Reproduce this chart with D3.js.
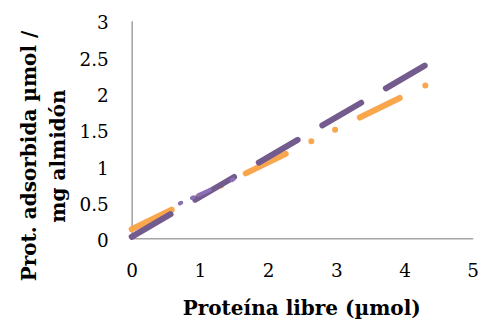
<!DOCTYPE html>
<html>
<head>
<meta charset="utf-8">
<script src="https://cdn.jsdelivr.net/npm/d3@7"></script>
<style>
  html, body { margin: 0; padding: 0; background: #fff; }
  svg { display: block; }
</style>
</head>
<body>
<div id="chart"></div>
<script>
// Trend lines (x = free protein, y = adsorbed protein)
const purpleX = [0, 4.35];
const purpleY = [0.02, 2.41];
const orangeX = [0, 4.31];
const orangeY = [0.124, 2.11];
const lightX = [0.68, 1.51];
const lightY = [0.47, 0.82];

const xTicks = [0, 1, 2, 3, 4, 5];
const yTicks = [0, 0.5, 1, 1.5, 2, 2.5, 3];

const width = 484, height = 320;
const plot = { left: 131.7, right: 472.7, top: 20.7, bottom: 238.3 };
const serif = "'DejaVu Serif', Cambria, serif";

const svg = d3.select('#chart')
    .append('svg')
    .attr('width', width)
    .attr('height', height);

const x = d3.scaleLinear().domain([0, 5]).range([plot.left, plot.right]);
const y = d3.scaleLinear().domain([0, 3]).range([plot.bottom, plot.top]);

// axes, no tick marks, only gray base lines
const xAxis = svg.append('g')
    .attr('transform', `translate(0,${y(0)})`)
    .call(d3.axisBottom(x).tickValues(xTicks).tickSize(0).tickFormat(d3.format('')));
const yAxis = svg.append('g')
    .attr('transform', `translate(${x(0)},0)`)
    .call(d3.axisLeft(y).tickValues(yTicks).tickSize(0).tickPadding(23).tickFormat(d3.format('')));

[xAxis, yAxis].forEach(a => {
    a.select('.domain').attr('stroke', '#a6a6a6').attr('stroke-width', 1.6);
    a.selectAll('text')
        .style('font-family', serif)
        .style('font-size', '18.4px')
        .attr('fill', '#000');
});
yAxis.selectAll('text').attr('dy', '0.45em');
xAxis.selectAll('text').attr('y', 39).attr('dy', 0);

// lines
const line = d3.line().x(d => x(d[0])).y(d => y(d[1]));

function drawSeries(xs, ys, color, w, dash, offset) {
    svg.append('path')
        .datum(d3.zip(xs, ys))
        .attr('d', line)
        .attr('fill', 'none')
        .attr('stroke', color)
        .attr('stroke-width', w)
        .attr('stroke-linecap', 'round')
        .attr('stroke-dasharray', dash)
        .attr('stroke-dashoffset', offset);
}

drawSeries(orangeX, orangeY, '#f9a64d', 6, '44.5 28.5 0 26.5 0 27.5', 0);
drawSeries(purpleX, purpleY, '#735b8e', 6, '45 28.6', 0);
drawSeries(lightX, lightY, '#8a70b5', 4, '1.5 11.6 1.5 5.8 12.4 24.2 1.5 100', -2);

// axis titles
svg.append('text')
    .attr('x', 301.7)
    .attr('y', 315)
    .attr('text-anchor', 'middle')
    .style('font-family', serif)
    .style('font-weight', 'bold')
    .style('font-size', '20px')
    .text('Proteína libre (µmol)');

const yTitle = svg.append('text')
    .attr('transform', 'translate(0,156) rotate(-90)')
    .attr('text-anchor', 'middle')
    .style('font-family', serif)
    .style('font-weight', 'bold')
    .style('font-size', '20px');
yTitle.append('tspan').attr('x', 0).attr('y', 35.5).text('Prot. adsorbida µmol /');
yTitle.append('tspan').attr('x', 0).attr('y', 64.5).text('mg almidón');
</script>
</body>
</html>
